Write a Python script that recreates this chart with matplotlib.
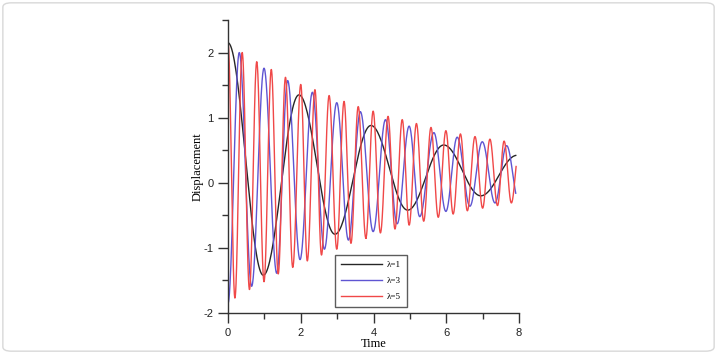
import numpy as np
import matplotlib
matplotlib.use("Agg")
import matplotlib.pyplot as plt
from matplotlib.ticker import MultipleLocator
from matplotlib.patches import FancyBboxPatch

plt.rcParams["axes.unicode_minus"] = False

# Extrema (time, displacement); last entry is the curve end point
black_t = [0.0, 0.97, 1.95, 2.94, 3.93, 4.94, 5.93, 6.95, 7.91]
black_v = [2.15, -1.42, 1.35, -0.79, 0.88, -0.42, 0.58, -0.20, 0.42]

blue_t = [0.0, 0.31, 0.65, 0.99, 1.34, 1.64, 1.98, 2.32, 2.65, 2.99, 3.31, 3.64,
          3.99, 4.33, 4.65, 4.98, 5.27, 5.66, 5.99, 6.30, 6.65, 6.99, 7.34, 7.66, 7.91]
blue_v = [-1.85, 2.00, -1.59, 1.76, -1.39, 1.57, -1.18, 1.39, -1.02, 1.23, -0.88, 1.09,
          -0.75, 0.97, -0.63, 0.87, -0.52, 0.77, -0.44, 0.70, -0.36, 0.63, -0.31, 0.57, -0.16]

red_t = [0.0, 0.19, 0.39, 0.59, 0.79, 0.99, 1.19, 1.38, 1.58, 1.78, 2.00, 2.18, 2.39,
         2.57, 2.78, 2.99, 3.19, 3.38, 3.58, 3.79, 3.99, 4.19, 4.40, 4.59, 4.79, 4.98,
         5.18, 5.38, 5.58, 5.78, 5.99, 6.19, 6.39, 6.58, 6.79, 7.00, 7.20, 7.41, 7.59,
         7.79, 7.92]
red_v = [2.15, -1.77, 2.00, -1.64, 1.86, -1.52, 1.74, -1.40, 1.62, -1.30, 1.51, -1.20, 1.43,
         -1.11, 1.34, -1.02, 1.25, -0.93, 1.17, -0.85, 1.10, -0.77, 1.02, -0.71, 0.97, -0.65,
         0.91, -0.59, 0.85, -0.53, 0.80, -0.48, 0.75, -0.43, 0.71, -0.39, 0.67, -0.35, 0.64,
         -0.31, 0.25]

labels = ["λ=1", "λ=3", "λ=5"]
colors = ["#262626", "#5f55d2", "#f04848"]


def smooth_curve(ts, vs, n=40):
    ts = np.asarray(ts, float)
    vs = np.asarray(vs, float)
    half = np.mean(np.diff(ts[:-1]))
    xs, ys = [], []
    for i in range(len(ts) - 1):
        f = np.linspace(0, 1, n)
        t0, t1, v0, v1 = ts[i], ts[i + 1], vs[i], vs[i + 1]
        if i == len(ts) - 2:
            p = min(1.0, (t1 - t0) / half)
            e = (1 - np.cos(np.pi * p * f)) / (1 - np.cos(np.pi * p))
        else:
            e = (1 - np.cos(np.pi * f)) / 2
        xs.append(t0 + (t1 - t0) * f)
        ys.append(v0 + (v1 - v0) * e)
    return np.concatenate(xs), np.concatenate(ys)


fig = plt.figure(figsize=(7.17, 3.54), dpi=100)
fig.patches.append(FancyBboxPatch((0.004, 0.008), 0.992, 0.984,
                                  boxstyle="round,pad=0,rounding_size=0.012",
                                  transform=fig.transFigure, fill=False,
                                  edgecolor="#d8d8d8", linewidth=1.0))
ax = fig.add_axes([228 / 717, 1 - 313 / 354, 291 / 717, 293 / 354])

for (t, v), lab, c in zip([(black_t, black_v), (blue_t, blue_v), (red_t, red_v)], labels, colors):
    x, y = smooth_curve(t, v)
    ax.plot(x, y, color=c, lw=1.0, label=lab)

ax.set_xlim(0, 8)
ax.set_ylim(-2, 2.5)
ax.xaxis.set_major_locator(MultipleLocator(2))
ax.xaxis.set_minor_locator(MultipleLocator(1))
ax.yaxis.set_major_locator(MultipleLocator(1))
ax.yaxis.set_minor_locator(MultipleLocator(0.5))
ax.spines["top"].set_visible(False)
ax.spines["right"].set_visible(False)
for s in ["left", "bottom"]:
    ax.spines[s].set_linewidth(1.0)
    ax.spines[s].set_color("#333333")
ax.tick_params(which="major", direction="out", length=7, width=1.0, color="#333333",
               labelsize=8, labelcolor="#222222")
ax.tick_params(which="minor", direction="out", length=4, width=1.0, color="#333333")
for lbl in ax.get_xticklabels() + ax.get_yticklabels():
    lbl.set_family("Liberation Sans")

ax.set_xlabel("Time", family="Liberation Serif", fontsize=9, labelpad=0)
ax.set_ylabel("Displacement", family="Liberation Serif", fontsize=9, labelpad=0)

leg = ax.legend(loc="lower left", bbox_to_anchor=(0.368, 0.02), borderaxespad=0,
                fancybox=False, frameon=True,
                prop={"family": "Liberation Serif", "size": 6.5},
                handlelength=4.6, labelspacing=0.85, borderpad=0.65, handletextpad=0.5)
leg.get_frame().set_edgecolor("#333333")
leg.get_frame().set_linewidth(1.0)

fig.savefig("out.png", dpi=100)
